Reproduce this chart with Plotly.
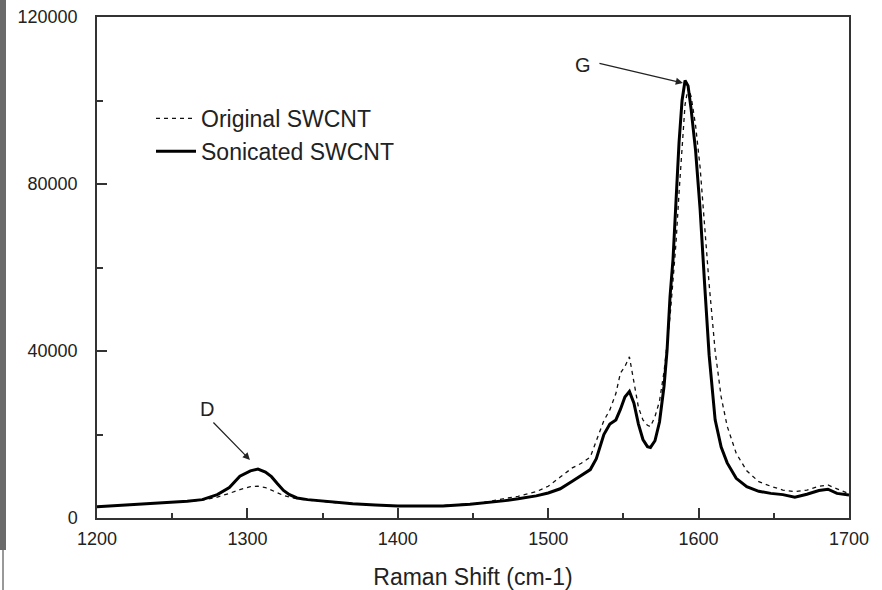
import plotly.graph_objects as go

raman_shift = [1200, 1215, 1230, 1245, 1260, 1270, 1280, 1288, 1295, 1302, 1307, 1312, 1316, 1320,
               1324, 1328, 1333, 1340, 1348, 1360, 1370, 1385, 1400, 1415, 1430, 1448, 1460, 1470,
               1480, 1492, 1500, 1508, 1516, 1522, 1528, 1532, 1537, 1541, 1545, 1548, 1551, 1554,
               1557, 1560, 1563, 1566, 1568, 1571, 1574, 1577, 1579, 1581, 1583, 1585, 1587, 1589,
               1591, 1593, 1595, 1598, 1601, 1604, 1607, 1611, 1615, 1619, 1625, 1632, 1640, 1648,
               1656, 1664, 1672, 1680, 1686, 1692, 1700]

sonicated = [2700, 3000, 3300, 3700, 4000, 4400, 5600, 7300, 10000, 11300, 11700, 11000, 9900, 8200,
             6600, 5600, 4800, 4400, 4100, 3700, 3400, 3100, 2900, 2900, 2900, 3300, 3700, 4100,
             4600, 5300, 6000, 7000, 8800, 10200, 11600, 14200, 20000, 22500, 23500, 26000, 29000, 30300,
             27500, 22500, 18800, 17100, 16900, 18500, 23000, 31500, 40000, 53000, 62000, 76000, 90000, 100000,
             104800, 103500, 98000, 88000, 74000, 56000, 39000, 23500, 17000, 13200, 9500, 7500, 6400, 5900,
             5600, 5000, 5700, 6600, 6900, 5900, 5500]

original = [2700, 3000, 3300, 3700, 4000, 4300, 5000, 5900, 6800, 7500, 7600, 7300, 6700, 6000,
            5400, 5000, 4600, 4300, 4000, 3600, 3400, 3100, 2900, 2900, 3000, 3400, 3900, 4600,
            5200, 6300, 7600, 9800, 12000, 13100, 14600, 18500, 23300, 25900, 29800, 34700, 36300, 38600,
            33000, 26500, 23500, 22200, 21900, 24300, 28000, 35000, 41500, 48200, 57000, 66000, 78000, 90000,
            99000, 103000, 101000, 94000, 84000, 70000, 56000, 40000, 29000, 22000, 15500, 11300, 8700, 7600,
            6700, 6300, 6700, 7600, 7900, 7000, 5800]

series_names = ["Original SWCNT", "Sonicated SWCNT"]
x_ticks = [1200, 1300, 1400, 1500, 1600, 1700]
y_ticks = [0, 40000, 80000, 120000]
x_title = "Raman Shift (cm-1)"

FONT = "Liberation Sans, Arial, sans-serif"
W, H = 882, 590
L, R, T, B = 97, 33, 17, 72
PW, PH = W - L - R, H - T - B


def px(xp):
    return (xp - L) / PW


def py(yp):
    return (H - B - yp) / PH


fig = go.Figure()
fig.add_trace(go.Scatter(x=raman_shift, y=original, mode="lines", name=series_names[0],
                         line=dict(color="#111", width=1.3, dash="4px,4px")))
fig.add_trace(go.Scatter(x=raman_shift, y=sonicated, mode="lines", name=series_names[1],
                         line=dict(color="#000", width=3)))

axis_common = dict(showline=True, linecolor="#333", linewidth=1.5, mirror=True,
                   showgrid=False, zeroline=False, ticks="inside", ticklen=10,
                   tickcolor="#333", tickwidth=1.5,
                   tickfont=dict(family=FONT, size=18, color="#222"))

fig.update_xaxes(range=[1200, 1700], tickvals=x_ticks, ticktext=[str(v) for v in x_ticks],
                 minor=dict(ticks="inside", dtick=50, ticklen=5, tickcolor="#333", tickwidth=1.5),
                 ticklabelstandoff=4,
                 title=dict(text=x_title, font=dict(family=FONT, size=23, color="#222"), standoff=24),
                 **axis_common)
fig.update_yaxes(range=[0, 120000], tickvals=y_ticks, ticktext=[str(v) for v in y_ticks],
                 minor=dict(ticks="inside", dtick=20000, ticklen=6, tickcolor="#333", tickwidth=1.5),
                 ticklabelstandoff=14,
                 **axis_common)

# Peak annotations
fig.add_annotation(x=1301.7, y=13900, ax=-38, ay=-39, text="", showarrow=True,
                   arrowhead=2, arrowsize=1.2, arrowwidth=1.2, arrowcolor="#222")
fig.add_annotation(x=1273, y=26100, text="D", showarrow=False,
                   font=dict(family=FONT, size=20, color="#222"))
fig.add_annotation(x=1589.6, y=104200, ax=-85, ay=-20, text="", showarrow=True,
                   arrowhead=2, arrowsize=1.2, arrowwidth=1.2, arrowcolor="#222")
fig.add_annotation(x=1523, y=108500, text="G", showarrow=False,
                   font=dict(family=FONT, size=20, color="#222"))

# left border strip of the original picture
fig.add_shape(type="rect", xref="paper", yref="paper", x0=px(0), x1=px(6), y0=py(550), y1=py(0),
              fillcolor="#6a6a6a", line=dict(width=0), layer="above")
fig.add_shape(type="line", xref="paper", yref="paper", x0=px(3), x1=px(3), y0=py(590), y1=py(550),
              line=dict(color="#333", width=1), layer="above")

fig.update_layout(
    width=W, height=H,
    margin=dict(l=L, r=R, t=T, b=B, autoexpand=False),
    paper_bgcolor="white", plot_bgcolor="white",
    font=dict(family=FONT, color="#222"),
    legend=dict(x=px(151), y=py(97), xanchor="left", yanchor="top",
                bgcolor="rgba(0,0,0,0)", font=dict(family=FONT, size=23, color="#222"),
                tracegroupgap=0, itemwidth=40),
    showlegend=True,
)

fig.write_html("out.html", config={"displayModeBar": False},
               post_script="document.body.style.margin='0';")
